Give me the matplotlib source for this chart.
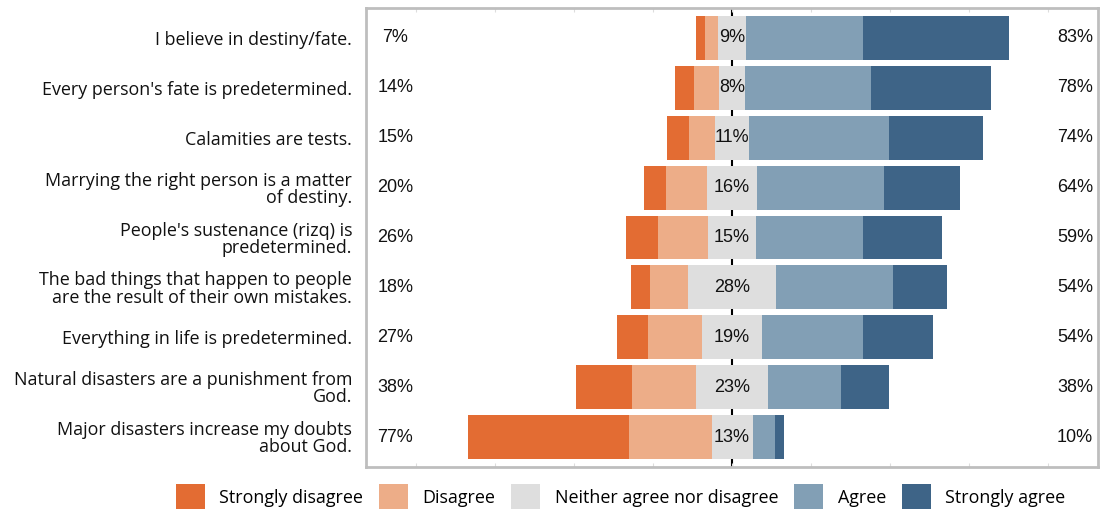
import matplotlib
matplotlib.use("Agg")
import matplotlib.pyplot as plt
from matplotlib import font_manager
import numpy as np

items = ["I believe in destiny/fate.",
         "Every person's fate is predetermined.",
         "Calamities are tests.",
         "Marrying the right person is a matter\nof destiny.",
         "People's sustenance (rizq) is\npredetermined.",
         "The bad things that happen to people\nare the result of their own mistakes.",
         "Everything in life is predetermined.",
         "Natural disasters are a punishment from\nGod.",
         "Major disasters increase my doubts\nabout God."]
strongly_disagree = [3, 6, 7, 7, 10, 6, 10, 18, 51]
disagree = [4, 8, 8, 13, 16, 12, 17, 20, 26]
neutral = [9, 8, 11, 16, 15, 28, 19, 23, 13]
agree = [37, 40, 44, 40, 34, 37, 32, 23, 7]
strongly_agree = [46, 38, 30, 24, 25, 17, 22, 15, 3]
left_pct = [7, 14, 15, 20, 26, 18, 27, 38, 77]
right_pct = [83, 78, 74, 64, 59, 54, 54, 38, 10]

cats = ["Strongly disagree", "Disagree", "Neither agree nor disagree",
        "Agree", "Strongly agree"]
colors = ["#E36C33", "#EDAD88", "#DEDEDE", "#829FB5", "#3E6487"]

names = {f.name for f in font_manager.fontManager.ttflist}
pct_font = "Liberation Sans Narrow" if "Liberation Sans Narrow" in names else "Liberation Sans"

sd = np.array(strongly_disagree, float)
d = np.array(disagree, float)
n = np.array(neutral, float)
a = np.array(agree, float)
sa = np.array(strongly_agree, float)
y = np.arange(len(items))

fig = plt.figure(figsize=(11.01, 5.14), dpi=100)
ax = fig.add_axes([0.3324, 0.0914, 0.665, 0.893])

h = 0.88
start = -n / 2 - d - sd
ax.axvline(0, color="black", linestyle=(0, (4, 4)), linewidth=1.5, zorder=0)
ax.barh(y, sd, left=start, height=h, color=colors[0], label=cats[0], zorder=2)
ax.barh(y, d, left=start + sd, height=h, color=colors[1], label=cats[1], zorder=2)
ax.barh(y, n, left=-n / 2, height=h, color=colors[2], label=cats[2], zorder=2)
ax.barh(y, a, left=n / 2, height=h, color=colors[3], label=cats[3], zorder=2)
ax.barh(y, sa, left=n / 2 + a, height=h, color=colors[4], label=cats[4], zorder=2)

for i in range(len(items)):
    ax.text(-106.5, y[i], f"{left_pct[i]}%", ha="center", va="center",
            fontsize=13, family=pct_font, color="#111111")
    ax.text(0, y[i], f"{neutral[i]}%", ha="center", va="center",
            fontsize=13, family=pct_font, color="#111111", zorder=3)
    ax.text(108.5, y[i], f"{right_pct[i]}%", ha="center", va="center",
            fontsize=13, family=pct_font, color="#111111")

ax.set_xlim(-115.8, 115.8)
ax.set_ylim(len(items) - 0.4, -0.6)
ax.set_yticks(y)
ax.set_yticklabels(items, family="Open Sans", fontsize=12.9, color="#111111",
                   linespacing=0.95)
ax.tick_params(axis="y", length=0, pad=10)
ax.set_xticks(np.arange(-100, 101, 25))
ax.tick_params(axis="x", direction="in", length=3, color="#DDDDDD",
               labelbottom=False, top=True)
for s in ax.spines.values():
    s.set_color("#BEBEBE")
    s.set_linewidth(2)

handles, labels = ax.get_legend_handles_labels()
fig.legend(handles, labels, loc="lower center", bbox_to_anchor=(0.5636, -0.022),
           ncol=5, frameon=False, prop={"family": "Open Sans", "size": 12.9},
           handlelength=1.62, handleheight=1.75, handletextpad=0.8,
           columnspacing=0.9)

fig.savefig("out.png", dpi=100)
